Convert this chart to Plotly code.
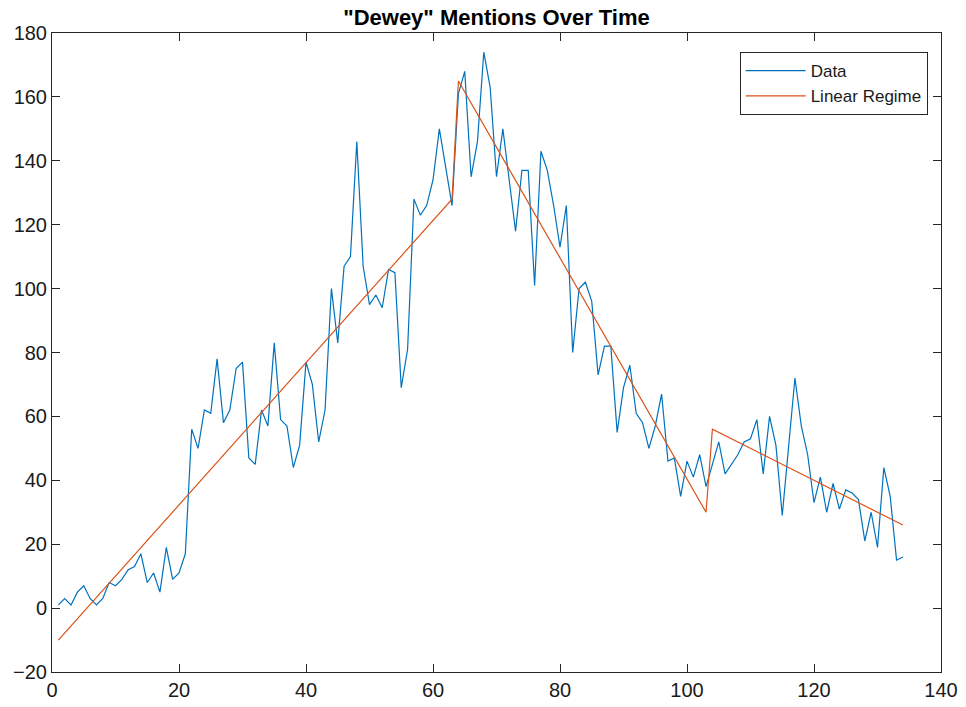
import plotly.graph_objects as go

# Weekly count of "Dewey" mentions (index 1..134)
mentions = [
    1, 3, 1, 5, 7, 3, 1, 3, 8, 7,
    9, 12, 13, 17, 8, 11, 5, 19, 9, 11,
    17, 56, 50, 62, 61, 78, 58, 62, 75, 77,
    47, 45, 62, 57, 83, 59, 57, 44, 51, 77,
    70, 52, 62, 100, 83, 107, 110, 146, 107, 95,
    98, 94, 106, 105, 69, 81, 128, 123, 126, 134,
    150, 138, 126, 161, 168, 135, 146, 174, 163, 135,
    150, 134, 118, 137, 137, 101, 143, 137, 126, 113,
    126, 80, 100, 102, 96, 73, 82, 82, 55, 69,
    76, 61, 58, 50, 57, 67, 46, 47, 35, 46,
    41, 48, 38, 45, 52, 42, 45, 48, 52, 53,
    59, 42, 60, 51, 29, 50, 72, 57, 48, 33,
    41, 30, 39, 31, 37, 36, 34, 21, 30, 19,
    44, 35, 15, 16,
]
time_idx = list(range(1, len(mentions) + 1))

# Piecewise linear fit: endpoints of the three regimes
regime_x = [1, 63, 64, 103, 104, 134]
regime_y = [-10, 128, 165, 30, 56, 26]

x_ticks = [0, 20, 40, 60, 80, 100, 120, 140]
y_ticks = [-20, 0, 20, 40, 60, 80, 100, 120, 140, 160, 180]

FONT = "Liberation Sans, Arial, Helvetica, sans-serif"
AXIS_COLOR = "#262626"

fig = go.Figure()
fig.add_trace(go.Scatter(
    x=time_idx, y=mentions, mode="lines", name="Data",
    line=dict(color="#0072BD", width=1.2),
))
fig.add_trace(go.Scatter(
    x=regime_x, y=regime_y, mode="lines", name="Linear Regime",
    line=dict(color="#D95319", width=1.2),
))

axis_common = dict(
    showgrid=False, zeroline=False, automargin=False,
    showline=True, linecolor=AXIS_COLOR, linewidth=1, mirror="allticks",
    ticks="inside", ticklen=8, tickcolor=AXIS_COLOR, tickwidth=1,
    tickfont=dict(family=FONT, size=20, color="#1a1a1a"),
)

fig.update_layout(
    width=966, height=707,
    margin=dict(l=52, r=25, t=33, b=35),
    paper_bgcolor="white", plot_bgcolor="white",
    title=dict(
        text="<b>\"Dewey\" Mentions Over Time</b>",
        font=dict(family=FONT, size=22, color="black"),
        x=0.5, xanchor="center", xref="paper", y=0.975, yanchor="middle",
    ),
    xaxis=dict(range=[0, 140], tickvals=x_ticks, **axis_common),
    yaxis=dict(range=[-20, 180], tickvals=y_ticks, **axis_common),
    legend=dict(
        x=0.985, y=0.97, xanchor="right", yanchor="top",
        bgcolor="white", bordercolor=AXIS_COLOR, borderwidth=1,
        font=dict(family=FONT, size=17, color="#1a1a1a"),
        itemwidth=60, tracegroupgap=0,
    ),
    showlegend=True,
)

fig.write_html("out.html")
